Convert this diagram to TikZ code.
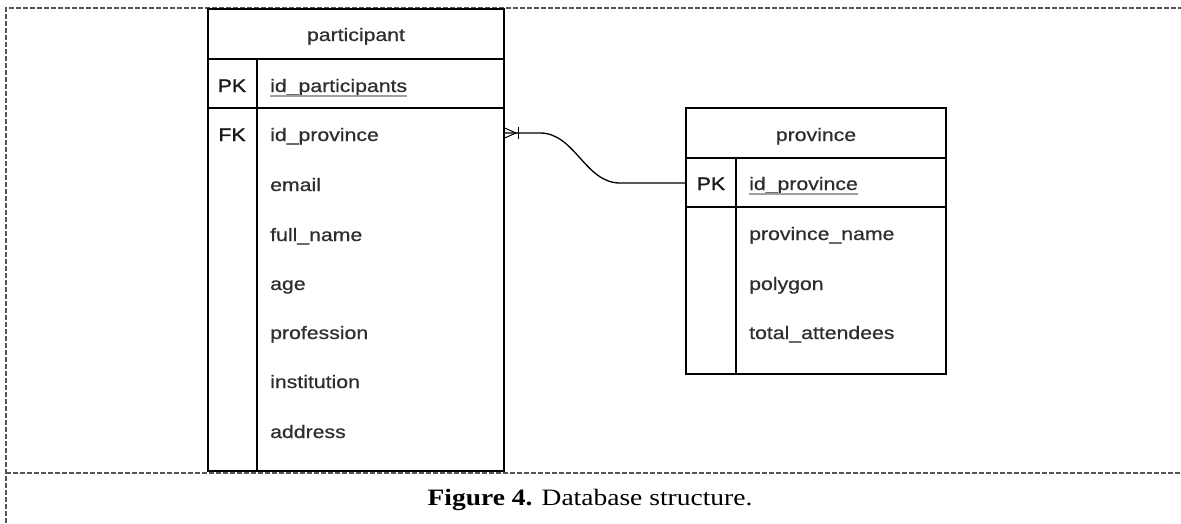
\documentclass[tikz,border=0pt]{standalone}
\usepackage{fontspec}
\setmainfont{Liberation Serif}[FakeStretch=1.17]
\newfontfamily\tabfont{Liberation Sans}[FakeStretch=1.18,FakeBold=0.6]
\newfontfamily\keyfont{Liberation Sans}[FakeStretch=1.18,FakeBold=1.6]
\definecolor{txt}{HTML}{2E2E2E}
\definecolor{dashc}{HTML}{555555}
\begin{document}
\begin{tikzpicture}[x=1pt,y=-1pt,
  tbl/.style={draw=black, line width=1.4pt, inner sep=0pt, fill=white},
  rule/.style={draw=black, line width=1.4pt},
  fld/.style={inner sep=0pt, anchor=base west, font=\tabfont\fontsize{18}{20}\selectfont, text=txt},
  ttl/.style={inner sep=0pt, anchor=base, font=\tabfont\fontsize{18}{20}\selectfont, text=txt},
  key/.style={inner sep=0pt, anchor=base, font=\keyfont\fontsize{18}{20}\selectfont, text=black!90},
  ul/.style={draw=gray!75, line width=1.1pt},
  conn/.style={draw=black, line width=1.3pt},
  frame/.style={draw=dashc, line width=1.1pt, dash pattern=on 5pt off 2pt}]
\useasboundingbox (0,0) rectangle (1181,523);
% frame
\draw[frame] (6,523) -- (6,8) -- (1181,8);
\draw[frame] (6,473) -- (1181,473);
% participant table
\node[tbl, minimum width=296pt, minimum height=462pt] (part) at (356,240) {};
\draw[rule] (part.west |- 0,59) -- (part.east |- 0,59);
\draw[rule] (part.west |- 0,108) -- (part.east |- 0,108);
\draw[rule] (257,59) -- (257,471);
\node[ttl] (ptitle) at (356,41) {participant};
\node[key] (ppk) at (232,92) {PK};
\node[fld] (pid) at (270,92) {id\_participants};
\draw[ul] ([yshift=-4pt]pid.base west) -- ([yshift=-4pt]pid.base east);
\node[key] (pfk) at (232,141) {FK};
\node[fld] (pprov) at (270,141) {id\_province};
\node[fld] (pemail) at (270,191) {email};
\node[fld] (pname) at (270,241) {full\_name};
\node[fld] (page) at (270,290) {age};
\node[fld] (pprof) at (270,339) {profession};
\node[fld] (pinst) at (270,388) {institution};
\node[fld] (paddr) at (270,438) {address};
% province table
\node[tbl, minimum width=260pt, minimum height=266pt] (prov) at (816,241) {};
\draw[rule] (prov.west |- 0,158) -- (prov.east |- 0,158);
\draw[rule] (prov.west |- 0,207) -- (prov.east |- 0,207);
\draw[rule] (736,158) -- (736,374);
\node[ttl] (vtitle) at (816,141) {province};
\node[key] (vpk) at (711,190) {PK};
\node[fld] (vid) at (749,190) {id\_province};
\draw[ul] ([yshift=-4pt]vid.base west) -- ([yshift=-4pt]vid.base east);
\node[fld] (vname) at (749,240) {province\_name};
\node[fld] (vpoly) at (749,290) {polygon};
\node[fld] (vtot) at (749,339) {total\_attendees};
% connector
\coordinate (ca) at (part.east |- 0,133);
\coordinate (cb) at (prov.west |- 0,183);
\draw[conn] (ca) -- (540,133) .. controls (575,133) and (585,183) .. (620,183) -- (cb);
\draw[conn, line width=1pt] (part.east |- 0,128) -- (516,133) -- (part.east |- 0,138);
\draw[conn, line width=1pt] (518,127) -- (518,139);
% caption
\node[inner sep=0pt, anchor=base, font=\fontsize{23.5}{26}\selectfont] (cap) at (590,505) {\textbf{Figure 4.} Database structure.};
\end{tikzpicture}
\end{document}
